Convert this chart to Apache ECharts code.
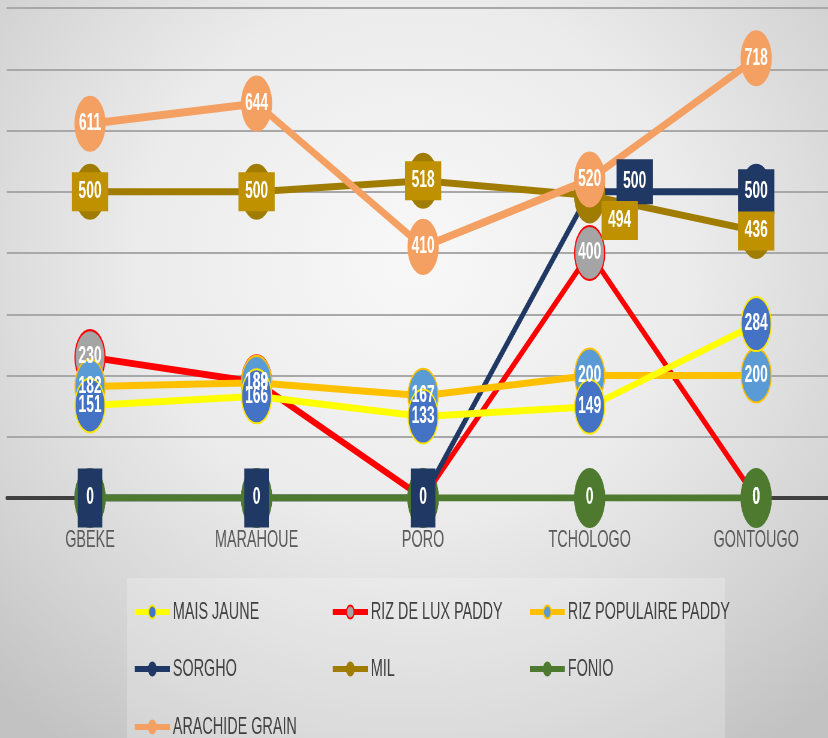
<!DOCTYPE html>
<html><head><meta charset="utf-8">
<script src="https://cdn.jsdelivr.net/npm/echarts@6/dist/echarts.min.js"></script>
<style>
html,body{margin:0;padding:0;width:828px;height:738px;overflow:hidden;}
body{background:radial-gradient(ellipse 75% 80% at 50% 35%, #f8f8f8 0%, #ebebeb 45%, #d2d2d2 80%, #c2c2c2 100%);}
#c{width:1417px;height:738px;transform:scaleX(0.6);transform-origin:0 0;}
</style></head>
<body><div id="c"></div>
<script>
const categories = ['GBEKE','MARAHOUE','PORO','TCHOLOGO','GONTOUGO'];
const maisJaune = [151,166,133,149,284];
const rizLux = [230,189,0,400,0];
const rizPop = [182,188,167,200,200];
const sorgho = [0,0,0,500,500];
const mil = [500,500,518,494,436];
const fonio = [0,0,0,0,0];
const arachide = [611,644,410,520,718];
const seriesNames = ['MAIS JAUNE','RIZ DE LUX PADDY','RIZ POPULAIRE PADDY','SORGHO','MIL','FONIO','ARACHIDE GRAIN'];

const S = 0.6;               // horizontal condensation of the page
const X = v => v / S;        // convert a screen x/width to inner chart units
const FONT = "'Liberation Sans','Arial',sans-serif";
const ELL = [50,54];
const GREEN = '#4E7A2F', NAVY = '#203864';

function lbl(extra){
  return Object.assign({show:true, position:'inside', color:'#fff', fontFamily:FONT, fontSize:23, fontWeight:'bold'}, extra||{});
}
function lineSeries(name, data, lineColor, markColor, borderColor, z, extra){
  return Object.assign({
    name, type:'line', data, z,
    symbol:'circle', symbolSize:ELL, showAllSymbol:true,
    lineStyle:{color:lineColor, width:7},
    itemStyle:{color:markColor, borderColor:borderColor, borderWidth:2},
    label:{show:false},
    emphasis:{disabled:true}, silent:true,
    animation:false
  }, extra||{});
}
function labelSeries(idx, data, z, labelOpt){
  return {
    name:'lbl'+idx, type:'line', data, z,
    symbol:'circle', symbolSize:1, showAllSymbol:true,
    lineStyle:{width:0, opacity:0},
    itemStyle:{color:'rgba(0,0,0,0)', borderWidth:0},
    label:lbl(labelOpt),
    emphasis:{disabled:true}, silent:true, animation:false
  };
}

const milData = mil.map((v,i)=> i===3 ? {value:v, label:{offset:[X(30),25]}} : v);
const sorghoData = sorgho.map((v,i)=>{
  if(v===0) return {value:v, label:{padding:[18,14]}};
  if(i===3) return {value:v, label:{offset:[X(45),-10]}};
  return v;
});

const series = [
  lineSeries(seriesNames[0], maisJaune, '#FFFF00', '#4472C4', '#FFE600', 6),
  lineSeries(seriesNames[1], rizLux, '#FF0000', '#A5A5A5', '#FF0000', 2),
  lineSeries(seriesNames[2], rizPop, '#FFC000', '#5B9BD5', '#FFC000', 5),
  lineSeries(seriesNames[3], sorgho, NAVY, NAVY, NAVY, 3),
  lineSeries(seriesNames[4], mil, '#A07C00', '#A07C00', '#A07C00', 4),
  lineSeries(seriesNames[5], fonio, GREEN, GREEN, GREEN, 4, {symbolSize:[50,58]}),
  lineSeries(seriesNames[6], arachide, '#F4A062', '#F4A062', '#F4A062', 7, {lineStyle:{color:'#F4A062', width:8}}),
  // data labels drawn above every marker
  labelSeries(1, rizLux, 10),
  labelSeries(5, fonio, 10),
  labelSeries(3, sorghoData, 11, {backgroundColor:NAVY, padding:[11,11]}),
  labelSeries(2, rizPop, 12),
  labelSeries(0, maisJaune, 12),
  labelSeries(4, milData, 12, {backgroundColor:'#BF9000', padding:[8,11]}),
  labelSeries(6, arachide, 13)
];

const legendPos = [[130,595],[328,595],[525,595],[130,652],[328,652],[525,652],[130,710]];
const legends = seriesNames.map((n,i)=>({
  data:[n],
  left:X(legendPos[i][0]), top:legendPos[i][1], orient:'horizontal',
  itemWidth:X(35), itemHeight:16, itemGap:4,
  lineStyle:{width:6},
  textStyle:{fontFamily:FONT, fontSize:24, color:'#404040'},
  selectedMode:false
}));

const chart = echarts.init(document.getElementById('c'), null, {renderer:'canvas'});
chart.setOption({
  backgroundColor:'transparent',
  animation:false,
  graphic:[{type:'rect', shape:{x:X(127),y:578,width:X(598),height:170}, style:{fill:'rgba(255,255,255,0.22)'}, z:-1, silent:true}],
  grid:{left:X(6.75), right:X(850-839.25), top:8, bottom:240, containLabel:false},
  xAxis:{type:'category', data:categories, boundaryGap:true,
    axisLine:{show:true, lineStyle:{color:'#404040', width:4}},
    axisTick:{show:false},
    axisLabel:{fontFamily:FONT, fontSize:24, color:'#595959', margin:30}
  },
  yAxis:{type:'value', min:0, max:800, interval:100,
    axisLabel:{show:false}, axisLine:{show:false}, axisTick:{show:false},
    splitLine:{show:true, lineStyle:{color:'#a8a8a8', width:2}}
  },
  legend:legends,
  series
});
</script></body></html>
